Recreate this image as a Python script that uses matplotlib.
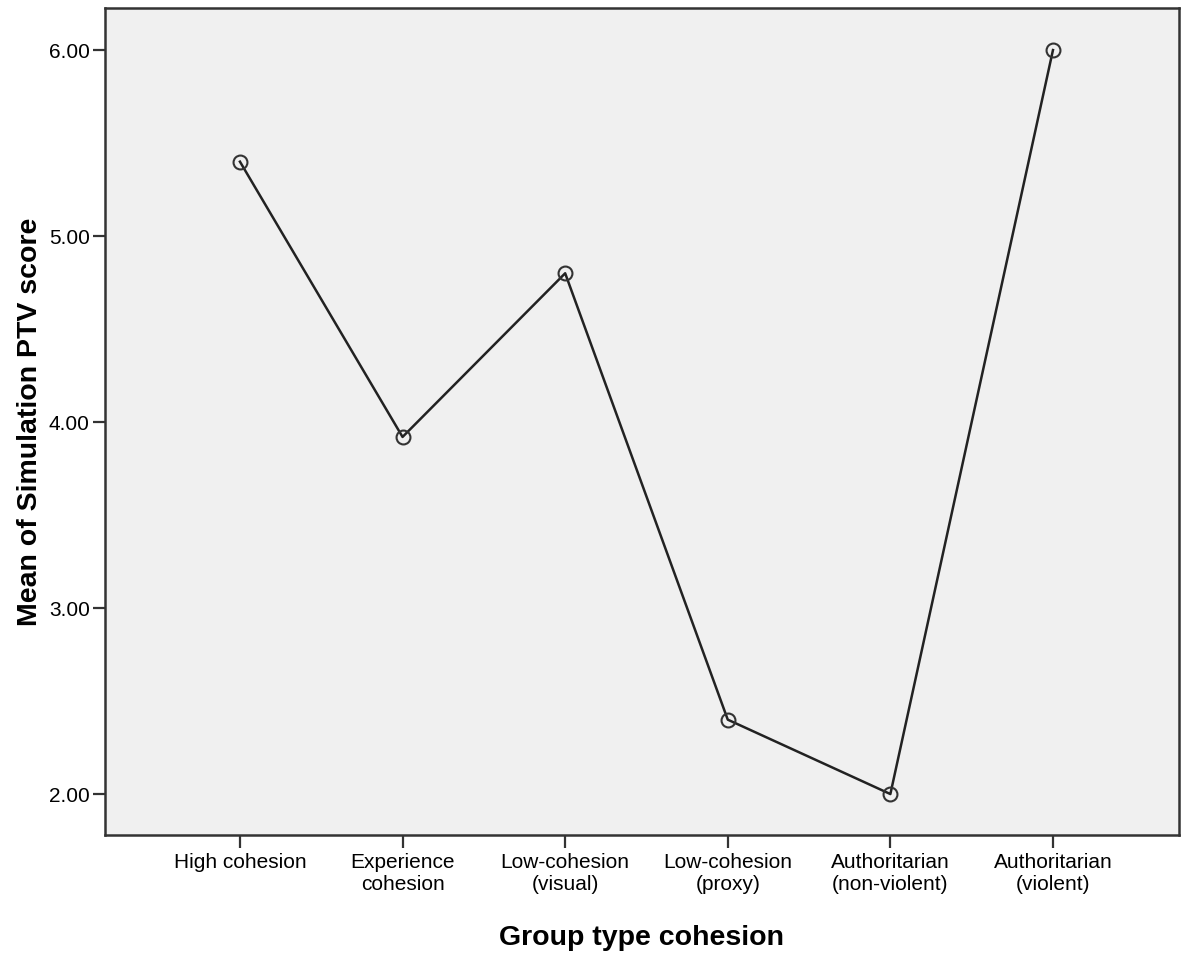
import matplotlib
matplotlib.use("Agg")
import matplotlib.pyplot as plt

categories = ["High cohesion", "Experience\ncohesion", "Low-cohesion\n(visual)",
              "Low-cohesion\n(proxy)", "Authoritarian\n(non-violent)", "Authoritarian\n(violent)"]
means = [5.40, 3.92, 4.80, 2.40, 2.00, 6.00]
yticks = [2.0, 3.0, 4.0, 5.0, 6.0]

plt.rcParams["font.family"] = ["Liberation Sans", "DejaVu Sans"]

fig = plt.figure(figsize=(11.81, 9.56), dpi=100)
ax = fig.add_axes([0.0889, 0.1266, 0.9094, 0.865])
ax.set_facecolor("#f0f0f0")

x = list(range(len(categories)))
ax.plot(x, means, color="#222222", lw=1.8, marker="o", ms=10,
        mfc="none", mec="#333333", mew=1.5)

ax.set_xlim(-0.83, 5.775)
ax.set_ylim(1.78, 6.226)
ax.set_xticks(x)
ax.set_xticklabels(categories, fontsize=15, linespacing=1.2)
ax.set_yticks(yticks)
ax.set_yticklabels([f"{v:.2f}" for v in yticks], fontsize=15)
ax.tick_params(length=9, width=1.6, color="#333333", pad=2)
ax.tick_params(axis="x", pad=4)
for s in ax.spines.values():
    s.set_linewidth(1.8)
    s.set_color("#333333")

ax.set_xlabel("Group type cohesion", fontsize=20.5, fontweight="bold", labelpad=22)
ax.set_ylabel("Mean of Simulation PTV score", fontsize=20.5, fontweight="bold", labelpad=4)

fig.savefig("out.png", dpi=100)
